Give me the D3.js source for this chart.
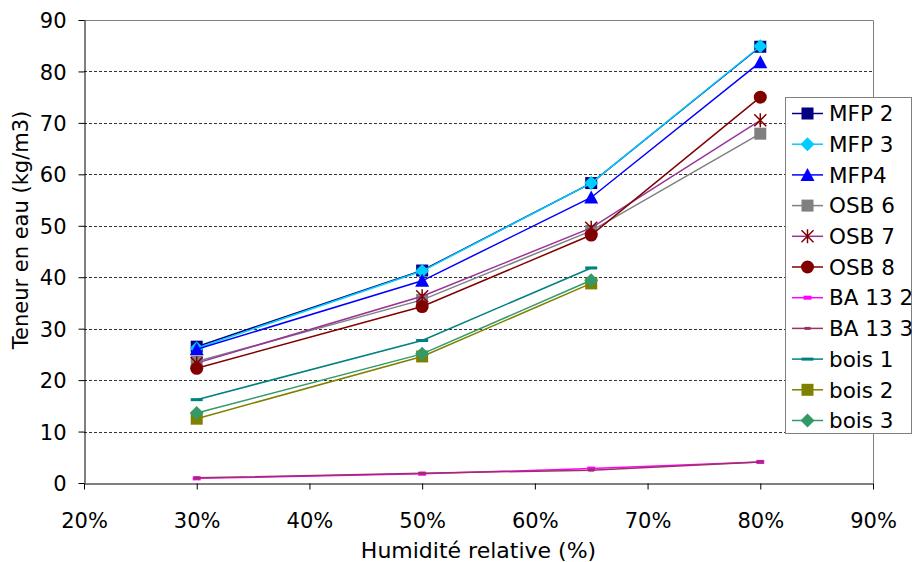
<!DOCTYPE html>
<html><head><meta charset="utf-8">
<script src="https://cdn.jsdelivr.net/npm/d3@7"></script>
<style>body{margin:0;background:#fff}svg{display:block}text{font-family:"DejaVu Sans",Verdana,sans-serif}</style>
</head><body><svg id="c" width="913" height="562"></svg>
<script>
const humidity = [30, 50, 65, 80];
const mfp2 = [26.5, 41.3, 58.3, 84.8];
const mfp3 = [26.2, 41.2, 58.3, 84.9];
const mfp4 = [26.0, 39.3, 55.5, 81.8];
const osb6 = [23.6, 35.6, 49.0, 67.9];
const osb7 = [23.3, 36.3, 49.6, 70.5];
const osb8 = [22.3, 34.3, 48.2, 75.0];
const ba132 = [0.9, 1.8, 2.8, 4.1];
const ba133 = [1.0, 1.9, 2.5, 4.1];
const bois1 = [16.2, 27.7, 41.8];
const bois2 = [12.5, 24.6, 38.8];
const bois3 = [13.6, 25.1, 39.4];
const xTicks = [20, 30, 40, 50, 60, 70, 80, 90];
const yTicks = [0, 10, 20, 30, 40, 50, 60, 70, 80, 90];

const series = [
  {name:"MFP 2", v:mfp2, line:"#000080", fill:"#000080", m:"square"},
  {name:"MFP 3", v:mfp3, line:"#00CCFF", fill:"#00CCFF", m:"diamond"},
  {name:"MFP4", v:mfp4, line:"#0000FF", fill:"#0000FF", m:"triangle"},
  {name:"OSB 6", v:osb6, line:"#808080", fill:"#808080", m:"square"},
  {name:"OSB 7", v:osb7, line:"#993399", fill:"#800000", m:"star"},
  {name:"OSB 8", v:osb8, line:"#800000", fill:"#800000", m:"circle"},
  {name:"BA 13 2", v:ba132, line:"#FF00FF", fill:"#FF00FF", m:"smalldash"},
  {name:"BA 13 3", v:ba133, line:"#993366", fill:"#993366", m:"tiny"},
  {name:"bois 1", v:bois1, line:"#008080", fill:"#008080", m:"dash"},
  {name:"bois 2", v:bois2, line:"#808000", fill:"#808000", m:"square"},
  {name:"bois 3", v:bois3, line:"#339966", fill:"#339966", m:"diamond"}
];

const svg = d3.select("#c");
const L = 84, R = 873, T = 20, B = 483;
const x = d3.scaleLinear().domain([20, 90]).range([L, R]);
const y = d3.scaleLinear().domain([0, 90]).range([B, T]);

// grid
svg.append("g").selectAll("line").data(yTicks.filter(d => d > 0 && d < 90)).join("line")
  .attr("x1", L).attr("x2", R).attr("y1", d => Math.round(y(d)) + 0.5).attr("y2", d => Math.round(y(d)) + 0.5)
  .attr("stroke", "#333").attr("stroke-dasharray", "3,2").attr("stroke-width", 1);
// plot border (top/right)
svg.append("path").attr("d", `M${L},${T + 0.5}H${R + 0.5}V${B}`).attr("fill", "none").attr("stroke", "#808080");

// axes
const xa = svg.append("g").attr("transform", `translate(0,${B + 0.5})`)
  .call(d3.axisBottom(x).tickValues(xTicks).tickFormat(d => d + "%").tickSize(6).tickPadding(24).tickSizeOuter(0));
const ya = svg.append("g").attr("transform", `translate(${L + 0.5},0)`)
  .call(d3.axisLeft(y).tickValues(yTicks).tickSize(6).tickPadding(12).tickSizeOuter(0));
[xa, ya].forEach(a => {
  a.selectAll("text").attr("font-size", 21).attr("fill", "#000").attr("font-family", "DejaVu Sans");
  a.selectAll("line,path").attr("stroke", "#000");
});
ya.selectAll("text").attr("dy", "0.36em");

svg.append("text").attr("x", x(55)).attr("y", 558).attr("text-anchor", "middle").attr("font-size", 22).text("Humidité relative (%)");
svg.append("text").attr("transform", `translate(28,230) rotate(-90)`).attr("text-anchor", "middle").attr("font-size", 21).text("Teneur en eau (kg/m3)");

function marker(g, s, cx, cy) {
  const c = s.fill;
  switch (s.m) {
    case "square": g.append("rect").attr("x", cx - 6).attr("y", cy - 6).attr("width", 12).attr("height", 12).attr("fill", c); break;
    case "diamond": g.append("path").attr("d", `M${cx},${cy - 7}L${cx + 7},${cy}L${cx},${cy + 7}L${cx - 7},${cy}Z`).attr("fill", c); break;
    case "triangle": g.append("path").attr("d", `M${cx},${cy - 7}L${cx + 7},${cy + 6}L${cx - 7},${cy + 6}Z`).attr("fill", c); break;
    case "circle": g.append("circle").attr("cx", cx).attr("cy", cy).attr("r", 6.5).attr("fill", c); break;
    case "star": g.append("path").attr("d", `M${cx - 6},${cy - 6}L${cx + 6},${cy + 6}M${cx + 6},${cy - 6}L${cx - 6},${cy + 6}M${cx},${cy - 7}V${cy + 7}`).attr("stroke", c).attr("stroke-width", 1.5).attr("fill", "none"); break;
    case "dash": g.append("rect").attr("x", cx - 6).attr("y", cy - 1.5).attr("width", 12).attr("height", 3).attr("fill", c); break;
    case "smalldash": g.append("rect").attr("x", cx - 4).attr("y", cy - 2).attr("width", 8).attr("height", 4).attr("fill", c); break;
    case "tiny": g.append("rect").attr("x", cx - 3).attr("y", cy - 1.5).attr("width", 6).attr("height", 3).attr("fill", c); break;
  }
}

const lineGen = d3.line().x(d => x(d[0])).y(d => y(d[1]));
series.forEach(s => {
  const pts = s.v.map((v, i) => [humidity[i], v]);
  const g = svg.append("g");
  g.append("path").attr("d", lineGen(pts)).attr("fill", "none").attr("stroke", s.line).attr("stroke-width", 1.5);
  pts.forEach(p => marker(g, s, x(p[0]), y(p[1])));
});

// legend
const lg = svg.append("g");
lg.append("rect").attr("x", 785.5).attr("y", 97.5).attr("width", 126).attr("height", 336).attr("fill", "#fff").attr("stroke", "#808080");
series.forEach((s, i) => {
  const cy = 113.5 + i * 30.7;
  const g = lg.append("g");
  g.append("line").attr("x1", 792).attr("x2", 823).attr("y1", cy).attr("y2", cy).attr("stroke", s.line).attr("stroke-width", 1.5);
  marker(g, s, 807.5, cy);
  g.append("text").attr("x", 829).attr("y", cy).attr("dy", "0.36em").attr("font-size", 21.5).text(s.name);
});
</script></body></html>
